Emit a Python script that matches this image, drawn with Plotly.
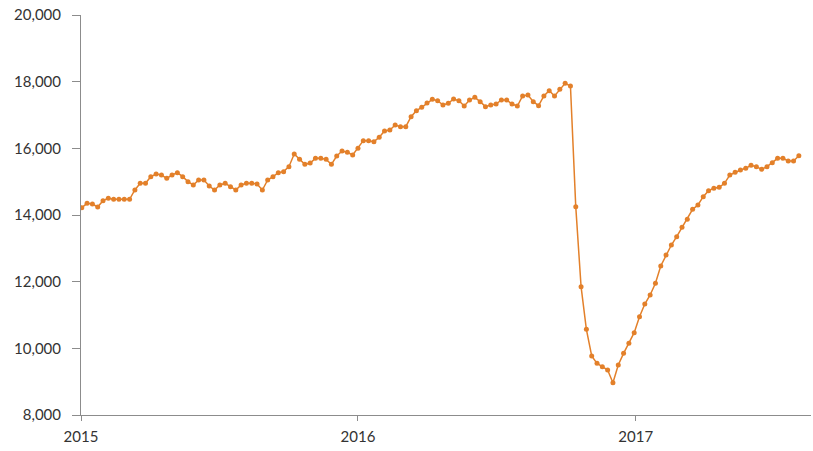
import pandas as pd
import plotly.graph_objects as go

start_date = "2015-01-02"
values = [
    14220, 14350, 14330, 14240, 14430, 14500, 14470, 14470, 14470, 14470,
    14750, 14950, 14950, 15150, 15230, 15200, 15100, 15200, 15270, 15150,
    15000, 14900, 15050, 15050, 14870, 14750, 14900, 14950, 14850, 14750,
    14900, 14950, 14950, 14930, 14750, 15050, 15150, 15270, 15300, 15450,
    15830, 15670, 15520, 15560, 15700, 15700, 15670, 15520, 15770, 15920,
    15880, 15800, 16000, 16230, 16230, 16200, 16330, 16520, 16550, 16700,
    16650, 16650, 16950, 17130, 17230, 17360, 17470, 17430, 17300, 17350,
    17480, 17430,
    17270, 17450, 17530, 17400, 17250, 17300, 17330, 17450, 17450, 17330,
    17270, 17570, 17600, 17400, 17280, 17570, 17730, 17570, 17770, 17950,
    17870,
    14250, 11850, 10570, 9770, 9550, 9450, 9350, 8970, 9500, 9850,
    10150, 10470, 10950, 11330, 11600, 11950, 12470, 12800, 13100, 13350,
    13630, 13870, 14170, 14300, 14550, 14730, 14800, 14830, 14950, 15200,
    15280, 15350, 15400, 15490, 15450, 15370, 15450, 15570, 15700, 15700,
    15620, 15620, 15780,
]
dates = pd.date_range(start=start_date, periods=len(values), freq="7D")

tick_vals = ["2015-01-01", "2016-01-01", "2017-01-01"]
tick_text = ["2015", "2016", "2017"]
y_ticks = [8000, 10000, 12000, 14000, 16000, 18000, 20000]

color = "#E3802A"

fig = go.Figure(
    go.Scatter(
        x=dates, y=values, mode="lines+markers",
        line=dict(color=color, width=1.5),
        marker=dict(color=color, size=5),
        hoverinfo="x+y",
    )
)

fig.update_layout(
    width=813, height=451,
    margin=dict(l=81, r=2, t=15, b=36),
    paper_bgcolor="white", plot_bgcolor="white",
    showlegend=False,
    font=dict(family="Lato, 'Open Sans', sans-serif", size=15, color="#333333"),
)
fig.update_xaxes(
    range=["2015-01-01", "2017-08-20"],
    tickvals=tick_vals, ticktext=tick_text,
    showgrid=False, zeroline=False,
    showline=True, linecolor="#8c8c8c", linewidth=1,
    ticks="outside", ticklen=5, tickcolor="#8c8c8c",
    ticklabelstandoff=3,
    tickfont=dict(size=15, color="#333333"),
)
fig.update_yaxes(
    range=[8000, 20000],
    tickvals=y_ticks, tickformat=",",
    showgrid=False, zeroline=False,
    showline=True, linecolor="#8c8c8c", linewidth=1,
    ticks="outside", ticklen=8, tickcolor="#8c8c8c",
    ticklabelstandoff=8,
    tickfont=dict(size=15, color="#333333"),
)

fig.write_html("out.html")
